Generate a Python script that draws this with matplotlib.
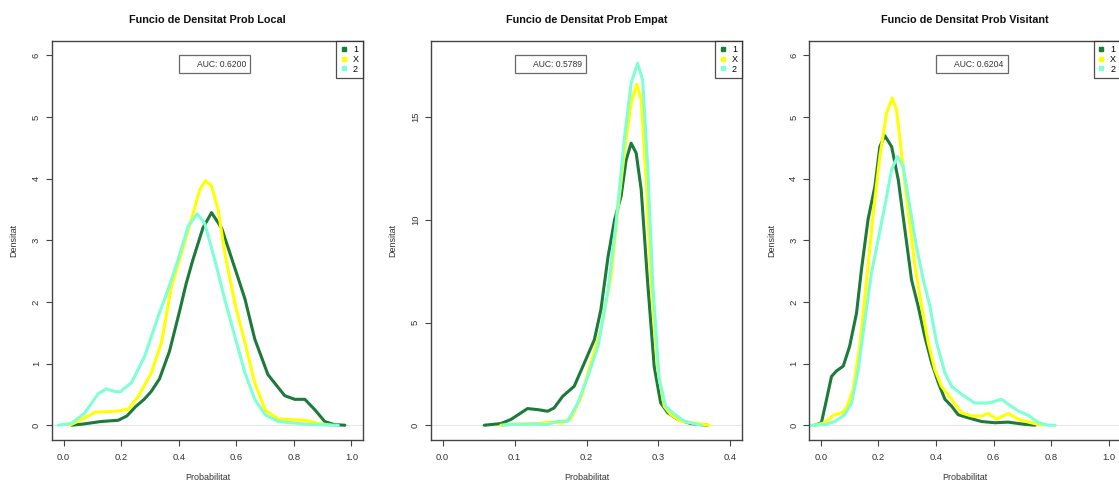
import matplotlib
matplotlib.use("Agg")
import matplotlib.pyplot as plt
from matplotlib.lines import Line2D

plt.rcParams["font.family"] = ["Liberation Sans", "DejaVu Sans"]

COLORS = {"1": "#1c7a3a", "X": "#ffff00", "2": "#7fffd4"}
SERIES = ["1", "X", "2"]

# ---- Prob Local ----
local_x1 = [0.028, 0.07, 0.13, 0.19, 0.22, 0.25, 0.28, 0.305, 0.333, 0.368, 0.403, 0.426, 0.449, 0.484,
            0.514, 0.549, 0.595, 0.63, 0.664, 0.71, 0.768, 0.803, 0.838, 0.873, 0.907, 0.94, 0.977]
local_d1 = [0.0, 0.02, 0.06, 0.08, 0.15, 0.3, 0.42, 0.55, 0.75, 1.2, 1.85, 2.3, 2.68, 3.2,
            3.45, 3.2, 2.55, 2.05, 1.4, 0.82, 0.48, 0.42, 0.42, 0.25, 0.06, 0.01, 0.0]
local_xX = [0.022, 0.074, 0.109, 0.15, 0.19, 0.225, 0.26, 0.305, 0.34, 0.375, 0.41, 0.444, 0.473, 0.493,
            0.514, 0.537, 0.56, 0.595, 0.63, 0.664, 0.7, 0.745, 0.79, 0.838, 0.884, 0.93]
local_dX = [0.0, 0.12, 0.21, 0.22, 0.23, 0.26, 0.47, 0.85, 1.34, 2.25, 2.8, 3.34, 3.82, 3.97,
            3.88, 3.5, 2.79, 1.98, 1.34, 0.69, 0.25, 0.1, 0.09, 0.08, 0.03, 0.0]
local_x2 = [-0.019, 0.028, 0.074, 0.12, 0.149, 0.175, 0.196, 0.236, 0.282, 0.329, 0.363, 0.398, 0.433,
            0.464, 0.49, 0.525, 0.56, 0.595, 0.63, 0.664, 0.7, 0.745, 0.79, 0.86, 0.954]
local_d2 = [0.0, 0.03, 0.2, 0.51, 0.59, 0.55, 0.54, 0.69, 1.12, 1.77, 2.2, 2.69, 3.23,
            3.43, 3.28, 2.69, 2.04, 1.44, 0.85, 0.42, 0.17, 0.06, 0.04, 0.01, 0.0]

# ---- Prob Empat ----
empat_x1 = [0.058, 0.081, 0.095, 0.109, 0.118, 0.132, 0.146, 0.155, 0.167, 0.183, 0.197, 0.211, 0.22, 0.23,
            0.239, 0.248, 0.255, 0.262, 0.269, 0.276, 0.285, 0.294, 0.303, 0.313, 0.327, 0.345, 0.368]
empat_d1 = [0.0, 0.08, 0.28, 0.6, 0.81, 0.76, 0.68, 0.84, 1.41, 1.9, 3.03, 4.17, 5.63, 8.22,
            10.0, 11.14, 12.9, 13.73, 13.25, 11.46, 6.92, 2.87, 1.09, 0.6, 0.28, 0.08, 0.0]
empat_xX = [0.081, 0.1, 0.13, 0.151, 0.165, 0.179, 0.193, 0.206, 0.22, 0.234, 0.243, 0.253, 0.262,
            0.27, 0.276, 0.283, 0.29, 0.299, 0.308, 0.317, 0.331, 0.355, 0.37]
empat_dX = [0.0, 0.05, 0.08, 0.15, 0.1, 0.36, 1.41, 3.03, 4.65, 7.25, 10.33, 13.4, 15.68,
            16.6, 15.84, 11.79, 6.92, 2.71, 0.92, 0.52, 0.19, 0.08, 0.0]
empat_x2 = [0.084, 0.1, 0.13, 0.145, 0.16, 0.174, 0.188, 0.202, 0.216, 0.23, 0.241, 0.253, 0.262,
            0.271, 0.278, 0.285, 0.292, 0.301, 0.31, 0.32, 0.336, 0.355, 0.359]
empat_d2 = [0.0, 0.04, 0.06, 0.03, 0.19, 0.19, 1.09, 2.38, 3.84, 6.6, 9.84, 14.06, 16.65,
            17.62, 16.8, 12.6, 6.92, 2.22, 0.92, 0.6, 0.19, 0.03, 0.0]

# ---- Prob Visitant ----
visit_x1 = [-0.021, 0.002, 0.02, 0.037, 0.054, 0.078, 0.1, 0.124, 0.141, 0.164, 0.188, 0.205, 0.222, 0.246,
            0.269, 0.292, 0.315, 0.338, 0.361, 0.385, 0.408, 0.431, 0.454, 0.477, 0.512, 0.558, 0.605,
            0.651, 0.698, 0.744]
visit_d1 = [0.0, 0.04, 0.42, 0.79, 0.88, 0.96, 1.28, 1.82, 2.52, 3.34, 3.88, 4.52, 4.7, 4.52,
            3.98, 3.17, 2.36, 1.93, 1.44, 1.01, 0.69, 0.42, 0.31, 0.17, 0.12, 0.06, 0.04,
            0.05, 0.02, 0.0]
visit_xX = [-0.021, 0.014, 0.043, 0.072, 0.089, 0.112, 0.135, 0.159, 0.182, 0.205, 0.228, 0.248, 0.263,
            0.28, 0.304, 0.327, 0.35, 0.373, 0.396, 0.419, 0.454, 0.489, 0.524, 0.558, 0.582, 0.61,
            0.651, 0.686, 0.721, 0.767]
visit_dX = [0.0, 0.04, 0.16, 0.2, 0.28, 0.58, 1.28, 2.36, 3.44, 4.36, 5.06, 5.31, 5.12,
            4.42, 3.44, 2.58, 1.93, 1.34, 0.9, 0.63, 0.42, 0.2, 0.15, 0.15, 0.19, 0.1,
            0.19, 0.1, 0.05, 0.0]
visit_x2 = [-0.033, 0.014, 0.049, 0.083, 0.107, 0.13, 0.153, 0.176, 0.199, 0.222, 0.246, 0.266, 0.286,
            0.309, 0.332, 0.356, 0.379, 0.402, 0.431, 0.454, 0.489, 0.535, 0.582, 0.605, 0.628, 0.651,
            0.686, 0.721, 0.756, 0.79, 0.813]
visit_d2 = [0.0, 0.01, 0.06, 0.17, 0.36, 0.9, 1.71, 2.47, 3.01, 3.55, 4.15, 4.36, 4.2,
            3.55, 2.9, 2.36, 1.93, 1.34, 0.85, 0.63, 0.5, 0.36, 0.36, 0.39, 0.42, 0.34,
            0.23, 0.16, 0.04, 0.0, 0.0]

TITLES = ["Funcio de Densitat Prob Local", "Funcio de Densitat Prob Empat", "Funcio de Densitat Prob Visitant"]
AUCS = ["0.6200", "0.5789", "0.6204"]
AUC_POS = [(0.4, 6), (0.1, 18), (0.4, 6)]
XMAX = [1.0, 0.4, 1.0]
YMAX = [6, 18, 6]
XTICKS = [[0, 0.2, 0.4, 0.6, 0.8, 1.0], [0, 0.1, 0.2, 0.3, 0.4], [0, 0.2, 0.4, 0.6, 0.8, 1.0]]
YTICKS = [[0, 1, 2, 3, 4, 5, 6], [0, 5, 10, 15], [0, 1, 2, 3, 4, 5, 6]]

panels = [
    [(local_x1, local_d1), (local_xX, local_dX), (local_x2, local_d2)],
    [(empat_x1, empat_d1), (empat_xX, empat_dX), (empat_x2, empat_d2)],
    [(visit_x1, visit_d1), (visit_xX, visit_dX), (visit_x2, visit_d2)],
]

W, H = 1119, 482
fig = plt.figure(figsize=(W / 100, H / 100), dpi=100)
lefts = [52, 431, 809.3]
EDGE = "#444444"

for i, left in enumerate(lefts):
    ax = fig.add_axes([left / W, 42 / H, 311 / W, 399.3 / H])
    xm, ym = XMAX[i], YMAX[i]
    ax.set_xlim(-0.04 * xm, 1.04 * xm)
    ax.set_ylim(-0.04 * ym, 1.04 * ym)
    ax.axhline(0, color="#e6e6e6", lw=0.8, zorder=1)
    for s, (x, d) in zip(SERIES, panels[i]):
        ax.plot(x, d, color=COLORS[s], lw=2.2, solid_capstyle="round",
                solid_joinstyle="round", zorder=2)

    ax.set_xticks(XTICKS[i])
    ax.set_xticklabels([f"{t:.1f}" for t in XTICKS[i]])
    ax.set_yticks(YTICKS[i])
    ax.set_yticklabels([str(t) for t in YTICKS[i]], rotation=90, va="center")
    ax.tick_params(direction="out", length=4, width=0.8, colors=EDGE, labelcolor="#333333",
                   labelsize=6.8)
    ax.tick_params(axis="x", pad=5.5)
    ax.tick_params(axis="y", pad=4)
    for sp in ax.spines.values():
        sp.set_color(EDGE)
        sp.set_linewidth(1.0)
    ax.set_title(TITLES[i], fontsize=7.8, fontweight="bold", pad=12.5, color="#111111")
    ax.set_xlabel("Probabilitat", fontsize=6.5, color="#333333", labelpad=8)
    ax.set_ylabel("Densitat", fontsize=6.5, color="#333333", labelpad=9.5)

    handles = [Line2D([], [], marker="s", linestyle="none", color=COLORS[s], markersize=3.2) for s in SERIES]
    leg = ax.legend(handles, SERIES, loc="upper right", borderaxespad=0, fontsize=6.5, frameon=True,
                    fancybox=False, handlelength=0.8, handletextpad=0.6, labelspacing=0.1,
                    borderpad=0.45)
    leg.get_frame().set_edgecolor("#222222")
    leg.get_frame().set_linewidth(0.9)
    ax.add_artist(leg)

    auc = ax.legend([Line2D([], [], linestyle="none")], [f"AUC: {AUCS[i]}"], loc="upper left",
                    bbox_to_anchor=AUC_POS[i], bbox_transform=ax.transData, borderaxespad=0,
                    fontsize=6.2, frameon=True, fancybox=False, handlelength=1.2, handletextpad=0.4,
                    borderpad=0.5)
    auc.get_frame().set_edgecolor("#444444")
    auc.get_frame().set_linewidth(0.9)
    for t in auc.get_texts():
        t.set_color("#333333")

fig.savefig("out.png", dpi=100)
